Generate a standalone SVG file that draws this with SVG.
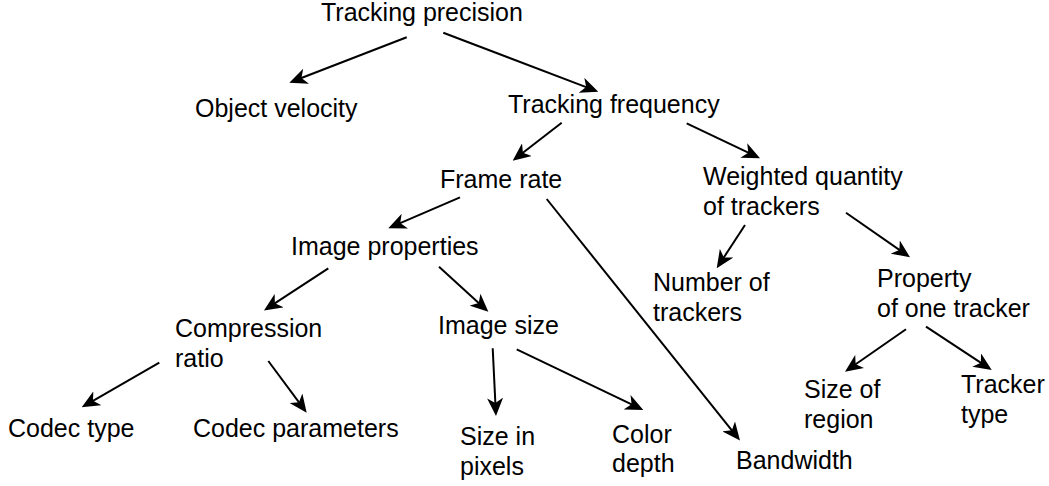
<svg xmlns="http://www.w3.org/2000/svg" width="1049" height="486" viewBox="0 0 1049 486">
  <style>
    text { font-family: "Liberation Sans", Arial, sans-serif; font-size: 25px; fill: #000; }
    .edge { fill: none; stroke: #000; stroke-width: 2; marker-end: url(#arrow); }
  </style>
  <defs>
    <!-- notched filled arrowhead; its tip sits 6px beyond the end of each line -->
    <marker id="arrow" markerUnits="userSpaceOnUse" markerWidth="18" markerHeight="16" viewBox="0 0 18 16" refX="12" refY="8" orient="auto">
      <path d="M0,0 L18,8 L0,16 L5,8 Z" fill="#000"/>
    </marker>
  </defs>
  <rect width="1049" height="486" fill="#fff"/>

  <g id="connectors">
    <line class="edge" x1="406.7" y1="37.3" x2="294.9" y2="80.5"/>
    <line class="edge" x1="443.3" y1="32.7" x2="592.7" y2="89.6"/>
    <line class="edge" x1="561.7" y1="122.7" x2="517.4" y2="157.0"/>
    <line class="edge" x1="686.7" y1="123.3" x2="754.6" y2="155.7"/>
    <line class="edge" x1="460" y1="197.3" x2="393.8" y2="225.9"/>
    <line class="edge" x1="546.7" y1="199" x2="736.25" y2="435.8"/>
    <line class="edge" x1="745" y1="225" x2="720.0" y2="263.3"/>
    <line class="edge" x1="846" y1="212.7" x2="905.1" y2="253.9"/>
    <line class="edge" x1="328.3" y1="268.3" x2="269.0" y2="307.2"/>
    <line class="edge" x1="439" y1="266.7" x2="483.9" y2="307.7"/>
    <line class="edge" x1="159.3" y1="362.7" x2="86.9" y2="404.3"/>
    <line class="edge" x1="268.3" y1="361" x2="303.1" y2="407.9"/>
    <line class="edge" x1="492.7" y1="348.3" x2="495.7" y2="410.0"/>
    <line class="edge" x1="516.7" y1="349.3" x2="637.9" y2="407.4"/>
    <line class="edge" x1="906" y1="329.3" x2="849.9" y2="368.3"/>
    <line class="edge" x1="926" y1="326.7" x2="986.7" y2="366.7"/>
  </g>

  <g id="tracking-precision"><text x="321" y="21">Tracking precision</text></g>
  <g id="object-velocity"><text x="195" y="117">Object velocity</text></g>
  <g id="tracking-frequency"><text x="508" y="113">Tracking frequency</text></g>
  <g id="frame-rate"><text x="440" y="188">Frame rate</text></g>
  <g id="weighted-quantity"><text x="703" y="185">Weighted quantity</text><text x="703" y="215">of trackers</text></g>
  <g id="image-properties"><text x="291" y="255">Image properties</text></g>
  <g id="number-of-trackers"><text x="653" y="291">Number of</text><text x="653" y="321">trackers</text></g>
  <g id="property-of-one-tracker"><text x="877" y="287">Property</text><text x="877" y="317">of one tracker</text></g>
  <g id="compression-ratio"><text x="175" y="337">Compression</text><text x="175" y="367">ratio</text></g>
  <g id="image-size"><text x="438" y="334">Image size</text></g>
  <g id="codec-type"><text x="8" y="437">Codec type</text></g>
  <g id="codec-parameters"><text x="193" y="437">Codec parameters</text></g>
  <g id="size-in-pixels"><text x="460" y="445">Size in</text><text x="460" y="475">pixels</text></g>
  <g id="color-depth"><text x="612" y="443">Color</text><text x="612" y="472">depth</text></g>
  <g id="bandwidth"><text x="736" y="469">Bandwidth</text></g>
  <g id="size-of-region"><text x="804" y="398">Size of</text><text x="804" y="428">region</text></g>
  <g id="tracker-type"><text x="961" y="393">Tracker</text><text x="961" y="423">type</text></g>
</svg>
